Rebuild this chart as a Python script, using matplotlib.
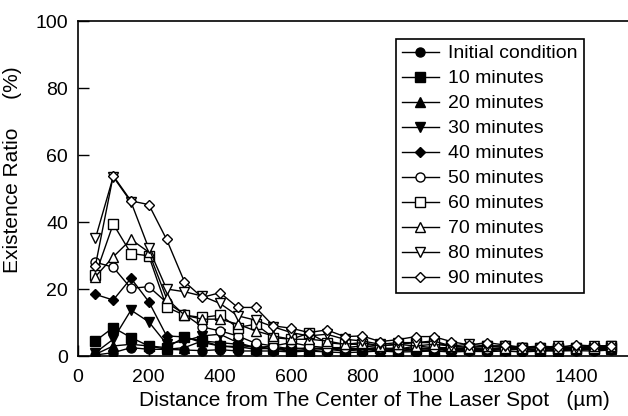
import matplotlib
matplotlib.use("Agg")
import matplotlib.pyplot as plt

plt.rcParams['font.family'] = ['Liberation Sans', 'DejaVu Sans']

# distance from laser spot centre (um)
distance = [50, 100, 150, 200, 250, 300, 350, 400, 450, 500,
            550, 600, 650, 700, 750, 800, 850, 900, 950, 1000,
            1050, 1100, 1150, 1200, 1250, 1300, 1350, 1400, 1450, 1500]

labels = ["Initial condition", "10 minutes", "20 minutes", "30 minutes",
          "40 minutes", "50 minutes", "60 minutes", "70 minutes",
          "80 minutes", "90 minutes"]

initial = [0.3, 1.0, 2.5, 2.0, 2.0, 1.8, 1.6, 1.9, 1.5, 1.5, 1.5, 1.2, 1.5, 1.2, 1.0,
           1.2, 1.5, 1.2, 1.3, 1.5, 1.2, 1.4, 1.3, 1.5, 1.2, 1.5, 1.5, 1.6, 1.5, 1.8]
min10 = [4.5, 8.5, 5.5, 3.0, 2.5, 5.6, 4.5, 3.0, 2.8, 2.0, 2.5, 1.5, 1.5, 2.0, 1.5,
         2.0, 2.5, 1.5, 2.0, 1.5, 2.5, 2.0, 2.0, 1.8, 2.0, 1.5, 2.0, 2.0, 2.0, 2.5]
min20 = [0.5, 3.0, 3.5, 3.0, 2.0, 2.5, 4.5, 4.0, 3.5, 2.5, 2.0, 2.5, 2.0, 2.5, 2.0,
         2.0, 1.5, 2.0, 2.5, 2.0, 1.5, 2.0, 2.5, 2.0, 2.0, 2.0, 1.5, 2.0, 2.5, 2.0]
min30 = [1.0, 5.0, 13.7, 10.2, 3.6, 4.5, 6.0, 6.5, 4.0, 2.5, 3.0, 2.0, 2.5, 2.0, 2.5,
         2.0, 2.0, 1.5, 2.0, 2.5, 2.0, 1.5, 2.0, 2.0, 2.5, 1.5, 2.0, 2.0, 2.0, 2.0]
min40 = [18.4, 16.7, 23.2, 16.2, 6.0, 5.7, 4.0, 3.0, 2.5, 3.0, 2.0, 1.5, 2.0, 2.5, 1.5,
         2.0, 2.0, 2.5, 1.5, 2.0, 2.0, 2.0, 1.5, 2.0, 2.0, 1.5, 2.0, 2.0, 2.0, 2.5]
min50 = [28.0, 26.5, 20.2, 20.7, 16.0, 12.5, 8.7, 7.5, 6.0, 3.8, 3.0, 4.0, 3.0, 2.5, 2.5,
         3.0, 2.5, 2.0, 3.0, 2.5, 2.5, 2.0, 2.0, 2.5, 2.0, 2.0, 2.5, 2.0, 2.5, 2.5]
min60 = [24.2, 39.4, 30.6, 29.9, 14.6, 12.2, 11.5, 12.2, 8.5, 9.5, 5.5, 5.0, 6.8, 4.0, 3.5,
         3.5, 3.0, 3.5, 4.0, 4.0, 3.0, 2.5, 3.0, 3.0, 2.5, 2.5, 2.5, 2.5, 2.5, 3.0]
min70 = [23.7, 29.6, 34.8, 31.0, 17.2, 12.2, 11.0, 11.0, 9.5, 7.5, 6.0, 5.0, 5.0, 4.5, 3.5,
         4.0, 3.0, 3.5, 3.0, 3.5, 3.0, 2.5, 3.0, 2.5, 2.5, 2.5, 2.5, 2.5, 3.0, 3.0]
min80 = [35.1, 53.5, 46.0, 32.1, 20.0, 19.2, 17.9, 15.7, 12.0, 10.7, 8.7, 7.0, 6.0, 6.5, 5.0,
         4.5, 3.5, 4.0, 4.0, 4.5, 3.0, 3.5, 3.0, 3.0, 2.5, 2.5, 3.0, 2.5, 3.0, 3.0]
min90 = [27.0, 53.8, 46.3, 45.2, 34.8, 22.2, 17.5, 18.9, 14.5, 14.5, 9.0, 8.3, 7.0, 7.8, 5.8,
         6.0, 4.3, 4.9, 5.8, 5.8, 4.3, 3.3, 4.0, 3.3, 2.6, 3.0, 2.6, 3.3, 3.0, 3.0]

series = [initial, min10, min20, min30, min40, min50, min60, min70, min80, min90]
markers = ['o', 's', '^', 'v', 'D', 'o', 's', '^', 'v', 'D']
filled = [True] * 5 + [False] * 5

fig = plt.figure(figsize=(6.28, 4.16), dpi=100)
# axes run past the right edge, like the cropped original
ax = fig.add_axes([0.1236, 0.1442, 0.9067, 0.8053])

for y, lab, m, f in zip(series, labels, markers, filled):
    ms = 5.5 if m == 'D' else 6.5
    ax.plot(distance, y, color='black', lw=1.0, marker=m, ms=ms,
            mfc='black' if f else 'white', mec='black', mew=1.0, label=lab)

ax.set_xlim(0, 1600)
ax.set_ylim(0, 100)
ax.set_xticks([0, 200, 400, 600, 800, 1000, 1200, 1400])
ax.set_yticks([0, 20, 40, 60, 80, 100])
ax.tick_params(direction='in', length=8, width=1, labelsize=14)
ax.tick_params(axis='x', pad=9)
ax.tick_params(axis='y', pad=7)
for s in ax.spines.values():
    s.set_linewidth(1.2)

ax.set_xlabel("Distance from The Center of The Laser Spot   (\u00b5m)", fontsize=15)
ax.set_ylabel("Existence Ratio     (%)", fontsize=15)
ax.xaxis.set_label_coords(0.521, -0.105)
ax.yaxis.set_label_coords(-0.098, 0.555)

leg = ax.legend(loc='upper left', bbox_to_anchor=(396 / 628, 1 - 39 / 416),
                bbox_transform=fig.transFigure, fontsize=14, frameon=True,
                fancybox=False, borderaxespad=0, borderpad=0.3, labelspacing=0.38,
                handlelength=1.9, handletextpad=0.5)
leg.get_frame().set_edgecolor('black')
leg.get_frame().set_linewidth(1.2)
leg.get_frame().set_alpha(1)

fig.savefig("out.png", dpi=100)
